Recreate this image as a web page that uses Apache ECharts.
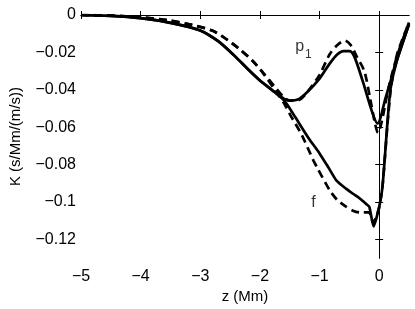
<!DOCTYPE html>
<html>
<head>
<meta charset="utf-8">
<script src="https://cdn.jsdelivr.net/npm/echarts@6/dist/echarts.min.js"></script>
<style>
html,body{margin:0;padding:0;background:#fff;}
#c{width:415px;height:309px;}
</style>
</head>
<body>
<div id="c"></div>
<script>
// ---- data (z in Mm, K in s/Mm/(m/s)) ----
var p1SolidZ = [-5, -4.5, -4, -3.5, -3, -2.7, -2.42, -2.2, -2, -1.76, -1.6, -1.5, -1.35, -1.2, -1, -0.83, -0.7, -0.6, -0.5, -0.42, -0.28, -0.11, -0.03, 0.11, 0.28, 0.5];
var p1SolidK = [0, -0.0005, -0.0017, -0.0042, -0.0083, -0.014, -0.022, -0.029, -0.035, -0.041, -0.0447, -0.0458, -0.045, -0.041, -0.034, -0.026, -0.021, -0.0193, -0.0193, -0.022, -0.035, -0.0526, -0.058, -0.044, -0.026, -0.005];

var p1DashZ = [-5, -4.5, -4, -3.5, -3.14, -2.8, -2.59, -2.37, -2.12, -1.95, -1.76, -1.6, -1.5, -1.35, -1.2, -1, -0.83, -0.7, -0.58, -0.48, -0.38, -0.25, -0.15, -0.07, -0.02, 0.05, 0.15, 0.3, 0.5];
var p1DashK = [0, -0.0003, -0.0012, -0.003, -0.0053, -0.0083, -0.0123, -0.0175, -0.0246, -0.0307, -0.038, -0.044, -0.0458, -0.0455, -0.041, -0.032, -0.021, -0.016, -0.0137, -0.016, -0.022, -0.03, -0.045, -0.058, -0.063, -0.056, -0.04, -0.022, -0.004];

var fSolidZ = [-5, -4.5, -4, -3.5, -3, -2.7, -2.42, -2.2, -2, -1.76, -1.6, -1.54, -1.4, -1.18, -1, -0.85, -0.715, -0.55, -0.44, -0.33, -0.22, -0.165, -0.094, 0, 0.055, 0.14, 0.19, 0.3, 0.5];
var fSolidK = [0, -0.0005, -0.0017, -0.0042, -0.0083, -0.014, -0.022, -0.029, -0.035, -0.041, -0.0455, -0.048, -0.055, -0.066, -0.074, -0.0816, -0.0886, -0.093, -0.0956, -0.098, -0.101, -0.1026, -0.113, -0.1026, -0.092, -0.057, -0.0395, -0.024, -0.005];

var fDashZ = [-5, -4.5, -4, -3.5, -3.14, -2.8, -2.59, -2.37, -2.12, -1.95, -1.75, -1.6, -1.49, -1.3, -1.1, -1.04, -0.825, -0.7, -0.55, -0.45, -0.33, -0.17, -0.1, -0.05, 0, 0.06, 0.14, 0.2, 0.3, 0.5];
var fDashK = [0, -0.0003, -0.0012, -0.003, -0.0053, -0.0083, -0.0123, -0.0175, -0.0246, -0.031, -0.04, -0.047, -0.0535, -0.064, -0.078, -0.0816, -0.094, -0.099, -0.1026, -0.1045, -0.1056, -0.1056, -0.111, -0.108, -0.103, -0.09, -0.058, -0.038, -0.021, -0.004];

var xTicks = [-5, -4, -3, -2, -1, 0];
var yTicks = [0, -0.02, -0.04, -0.06, -0.08, -0.1, -0.12];

var curveLabels = [
  {name: 'p1', z: -1.27, k: -0.0184},
  {name: 'f', z: -1.1, k: -0.1005}
];
// -----------------------------------------

function pairs(zs, ks) { return zs.map(function (z, i) { return [z, ks[i]]; }); }
function fmt(v) {
  if (v === 0) return '0';
  return (v < 0 ? '\u2212' : '') + String(Math.abs(v));
}
var FONT = 'Liberation Sans, Arial, Helvetica, sans-serif';

var chart = echarts.init(document.getElementById('c'), null, {renderer: 'canvas'});

var axisLineStyle = {show: true, lineStyle: {color: '#000', width: 1}};
var option = {
  animation: false,
  backgroundColor: '#fff',
  grid: {left: 77, right: 6, top: 15, bottom: 47},
  xAxis: [{
    type: 'value', min: -5, max: 0.5, position: 'bottom',
    axisLine: axisLineStyle,
    axisTick: {show: true, inside: true, length: 4, customValues: xTicks, lineStyle: {color: '#000'}},
    axisLabel: {show: true, customValues: xTicks, formatter: fmt, color: '#000', fontSize: 16, fontFamily: FONT, margin: 10},
    splitLine: {show: false},
    name: 'z (Mm)', nameLocation: 'middle', nameGap: 27,
    nameTextStyle: {color: '#000', fontSize: 15, fontFamily: FONT}
  }, {
    type: 'value', min: -5, max: 0.5, position: 'top',
    axisLine: axisLineStyle,
    axisTick: {show: true, inside: true, length: 4, customValues: xTicks, lineStyle: {color: '#000'}},
    axisLabel: {show: false},
    splitLine: {show: false}
  }],
  yAxis: [{
    type: 'value', min: -0.13, max: 0, position: 'left',
    axisLine: axisLineStyle,
    axisTick: {show: true, inside: true, length: 4, customValues: yTicks, lineStyle: {color: '#000'}},
    axisLabel: {show: true, customValues: yTicks, formatter: fmt, color: '#000', fontSize: 16, fontFamily: FONT, margin: 5},
    splitLine: {show: false},
    name: 'K (s/Mm/(m/s))', nameLocation: 'middle', nameGap: 58,
    nameTextStyle: {color: '#000', fontSize: 15, fontFamily: FONT}
  }, {
    type: 'value', min: -0.13, max: 0, position: 'right',
    axisLine: axisLineStyle,
    axisTick: {show: true, inside: true, length: 4, customValues: yTicks, lineStyle: {color: '#000'}},
    axisLabel: {show: false},
    splitLine: {show: false}
  }],
  series: [
    {type: 'line', name: 'p1 solid', data: pairs(p1SolidZ, p1SolidK), showSymbol: false, smooth: 0.3, clip: true,
     lineStyle: {color: '#000', width: 2.7, type: 'solid'}},
    {type: 'line', name: 'p1 dashed', data: pairs(p1DashZ, p1DashK), showSymbol: false, smooth: 0.3, clip: true,
     lineStyle: {color: '#000', width: 2.7, type: [8, 5]}},
    {type: 'line', name: 'f solid', data: pairs(fSolidZ, fSolidK), showSymbol: false, smooth: 0.2, clip: true,
     lineStyle: {color: '#000', width: 2.7, type: 'solid'}},
    {type: 'line', name: 'f dashed', data: pairs(fDashZ, fDashK), showSymbol: false, smooth: 0.2, clip: true,
     lineStyle: {color: '#000', width: 2.7, type: [8, 5]}},
    {type: 'scatter', symbolSize: 0, silent: true,
     data: curveLabels.map(function (d) { return {value: [d.z, d.k], name: d.name}; }),
     label: {show: true, position: 'inside', color: '#000', fontFamily: FONT, fontSize: 16,
       formatter: function (p) { return p.name === 'p1' ? '{a|p}{b|1}' : '{a|f}'; },
       rich: {a: {fontSize: 16, fontFamily: FONT, color: '#000', verticalAlign: 'top'},
              b: {fontSize: 12, fontFamily: FONT, color: '#000', padding: [10, 0, 0, 1], verticalAlign: 'top'}}}}
  ]
};
chart.setOption(option);
</script>
</body>
</html>
